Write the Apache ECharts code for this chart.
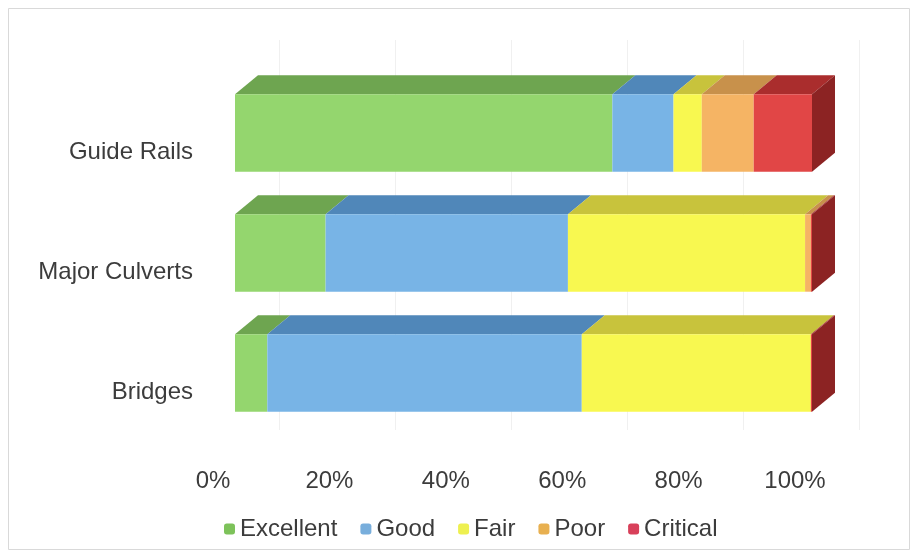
<!DOCTYPE html>
<html>
<head>
<meta charset="utf-8">
<script src="https://cdn.jsdelivr.net/npm/echarts@6/dist/echarts.min.js"></script>
<style>
  html, body { margin: 0; padding: 0; background: #fff; }
  #chart-container { width: 917px; height: 557px; }
</style>
</head>
<body>
<div id="chart-container"></div>
<script>
var categories = ['Guide Rails', 'Major Culverts', 'Bridges'];
var excellent = [65.4, 15.7, 5.6];
var good = [10.6, 42.0, 54.5];
var fair = [4.9, 41.1, 39.7];
var poor = [9.0, 1.0, 0.0];
var critical = [10.1, 0.2, 0.2];
var xTicks = [0, 20, 40, 60, 80, 100];

var seriesNames = ['Excellent', 'Good', 'Fair', 'Poor', 'Critical'];
var seriesValues = [excellent, good, fair, poor, critical];
var frontColors = ['#94D66E', '#78B4E6', '#F8F850', '#F5B464', '#E14646'];
var topColors = ['#6EA550', '#5087B9', '#C8C33C', '#C8914B', '#AA2D2D'];
var sideColor = '#8C2323';
var legendColors = ['#7DC25A', '#78AEDC', '#EEF050', '#E8B050', '#D8405A'];

var DX = 23, DY = -19, BAR_RATIO = 0.645;
var FONT = "'Liberation Sans', Arial, sans-serif";
var TXT = '#3c3c3c';
var FS = 24;

var dom = document.getElementById('chart-container');
var myChart = echarts.init(dom, null, { renderer: 'canvas' });

// running start of each segment
var starts = categories.map(function () { return 0; });

function makeRender(front, top, isLast) {
    return function (params, api) {
        var p0 = api.coord([api.value(0), api.value(2)]);
        var p1 = api.coord([api.value(1), api.value(2)]);
        var h = api.size([0, 1])[1] * BAR_RATIO;
        var x0 = p0[0], x1 = p1[0];
        var yt = p0[1] - h / 2, yb = p0[1] + h / 2;
        var children = [];
        if (x1 - x0 > 0.01) {
            children.push({
                type: 'polygon',
                shape: { points: [[x0, yt], [x1, yt], [x1 + DX, yt + DY], [x0 + DX, yt + DY]] },
                style: { fill: top }
            });
            children.push({
                type: 'rect',
                shape: { x: x0, y: yt, width: x1 - x0, height: h },
                style: { fill: front }
            });
        }
        if (isLast) {
            children.push({
                type: 'polygon',
                shape: { points: [[x1, yt], [x1 + DX, yt + DY], [x1 + DX, yb + DY], [x1, yb]] },
                style: { fill: sideColor }
            });
        }
        return { type: 'group', children: children };
    };
}

var series = seriesNames.map(function (name, si) {
    var data = categories.map(function (c, ci) {
        var s = starts[ci];
        var e = s + seriesValues[si][ci];
        starts[ci] = e;
        return [s, e, ci];
    });
    return {
        name: name,
        type: 'custom',
        xAxisIndex: 0,
        yAxisIndex: 0,
        itemStyle: { color: legendColors[si] },
        encode: { x: [0, 1], y: 2 },
        renderItem: makeRender(frontColors[si], topColors[si], si === seriesNames.length - 1),
        data: data,
        z: 3
    };
});

var hidden = {
    axisLabel: { show: false }, axisLine: { show: false },
    axisTick: { show: false }, splitLine: { show: false }
};

var option = {
    backgroundColor: '#fff',
    animation: false,
    textStyle: { fontFamily: FONT },
    graphic: [{
        type: 'rect',
        shape: { x: 8.5, y: 8.5, width: 901, height: 541 },
        style: { fill: 'none', stroke: '#d9d9d9', lineWidth: 1 },
        silent: true
    }],
    legend: {
        data: seriesNames,
        left: 219,
        top: 512,
        icon: 'roundRect',
        itemWidth: 11,
        itemHeight: 11,
        itemGap: 23,
        textStyle: { fontFamily: FONT, fontSize: FS, color: TXT }
    },
    grid: [
        { left: 235, width: 577, top: 73, height: 360 },
        { left: 213, width: 582, top: 73, height: 360 },
        { left: 279, width: 580, top: 40, height: 390 },
        { left: 235, width: 577, top: 92, height: 360 }
    ],
    xAxis: [
        Object.assign({ type: 'value', gridIndex: 0, min: 0, max: 100 }, hidden),
        {
            type: 'value', gridIndex: 1,
            min: xTicks[0], max: xTicks[xTicks.length - 1], interval: xTicks[1] - xTicks[0],
            axisLabel: {
                formatter: '{value}%', margin: 36,
                fontFamily: FONT, fontSize: FS, color: TXT
            },
            axisLine: { show: false }, axisTick: { show: false }, splitLine: { show: false }
        },
        {
            type: 'value', gridIndex: 2,
            min: xTicks[0], max: xTicks[xTicks.length - 1], interval: xTicks[1] - xTicks[0],
            axisLabel: { show: false }, axisLine: { show: false }, axisTick: { show: false },
            splitLine: { show: true, lineStyle: { color: '#f0f0f0', width: 1 } }
        },
        Object.assign({ type: 'value', gridIndex: 3, min: 0, max: 100 }, hidden)
    ],
    yAxis: [
        Object.assign({ type: 'category', gridIndex: 0, data: categories, inverse: true }, hidden),
        { type: 'value', gridIndex: 1, show: false },
        { type: 'value', gridIndex: 2, show: false },
        {
            type: 'category', gridIndex: 3, data: categories, inverse: true,
            axisLine: { show: false }, axisTick: { show: false },
            axisLabel: { margin: 42, fontFamily: FONT, fontSize: FS, color: TXT }
        }
    ],
    series: series
};

myChart.setOption(option);
window.addEventListener('resize', myChart.resize);
</script>
</body>
</html>
